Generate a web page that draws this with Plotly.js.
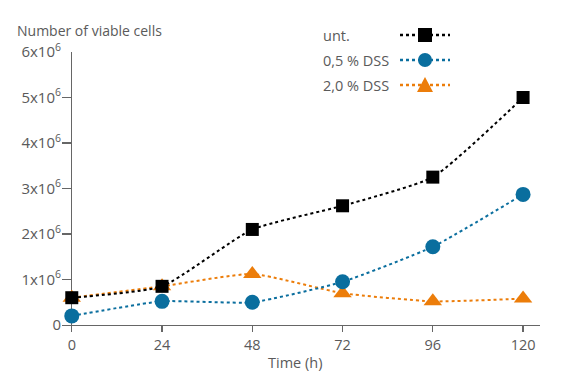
<!DOCTYPE html>
<html><head><meta charset="utf-8">
<script src="https://cdn.plot.ly/plotly-3.0.1.min.js"></script>
<style>html,body{margin:0;padding:0;background:#fff}#chart{width:579px;height:379px}</style>
</head><body><div id="chart"></div>
<script>
const hours = [0, 24, 48, 72, 96, 120];
const untreated = [0.6e6, 0.85e6, 2.1e6, 2.62e6, 3.25e6, 5.0e6];
const dss05 = [0.2e6, 0.52e6, 0.5e6, 0.95e6, 1.72e6, 2.87e6];
const dss20 = [0.6e6, 0.85e6, 1.12e6, 0.7e6, 0.52e6, 0.58e6];
const seriesNames = ['unt.', '0,5 % DSS', '2,0 % DSS'];
const yTickVals = [0, 1e6, 2e6, 3e6, 4e6, 5e6, 6e6];
const yTickText = ['0', '1x10<sup>6</sup>', '2x10<sup>6</sup>', '3x10<sup>6</sup>', '4x10<sup>6</sup>', '5x10<sup>6</sup>', '6x10<sup>6</sup>'];
const xTickVals = [0, 24, 48, 72, 96, 120];

const colors = ['#000000', '#0a6e9e', '#ec7d0a'];
const symbols = ['square', 'circle', 'triangle-up'];
const sizes = [13, 15, 16];
const FONT = '"Open Sans", "Noto Sans", sans-serif';
const GRAY = '#5a5a5a';

const series = [untreated, dss05, dss20];
const traces = series.map((ys, i) => ({
  x: hours, y: ys, name: seriesNames[i], type: 'scatter', mode: 'lines+markers',
  line: {color: colors[i], width: 2, dash: 'dot', shape: 'spline', smoothing: 0.5},
  marker: {color: colors[i], symbol: symbols[i], size: sizes[i]},
  cliponaxis: false, showlegend: false
})).reverse();

// plot area geometry (pixels)
const L = 62, R = 540, T = 52, B = 325;
const px = x => (x - L) / (R - L);
const py = y => (B - y) / (B - T);

const shapes = [];
const annotations = [];
const rows = [35, 60, 85];
rows.forEach((ry, i) => {
  shapes.push({type: 'line', xref: 'paper', yref: 'paper', x0: px(400), x1: px(450), y0: py(ry), y1: py(ry),
    line: {color: colors[i], width: 2.5, dash: 'dot'}});
  if (i === 0) {
    shapes.push({type: 'rect', xref: 'paper', yref: 'paper', x0: px(418), x1: px(432), y0: py(ry + 7), y1: py(ry - 7),
      fillcolor: colors[i], line: {width: 0}});
  } else if (i === 1) {
    shapes.push({type: 'circle', xref: 'paper', yref: 'paper', x0: px(418), x1: px(432), y0: py(ry + 7), y1: py(ry - 7),
      fillcolor: colors[i], line: {width: 0}});
  } else {
    shapes.push({type: 'path', xref: 'paper', yref: 'paper',
      path: `M ${px(417)} ${py(ry + 7)} L ${px(433)} ${py(ry + 7)} L ${px(425)} ${py(ry - 8)} Z`,
      fillcolor: colors[i], line: {width: 0}});
  }
  annotations.push({text: seriesNames[i], xref: 'paper', yref: 'paper', x: px(321), y: py(ry),
    xanchor: 'left', yanchor: 'middle', showarrow: false, font: {family: FONT, size: 14.5, color: GRAY}});
});
annotations.push({text: 'Number of viable cells', xref: 'paper', yref: 'paper', x: px(15), y: py(30),
  xanchor: 'left', yanchor: 'middle', showarrow: false, font: {family: FONT, size: 14, color: GRAY}});
annotations.push({text: 'Time (h)', xref: 'paper', yref: 'paper', x: px(295), y: py(362),
  xanchor: 'center', yanchor: 'middle', showarrow: false, font: {family: FONT, size: 14.5, color: GRAY}});

const layout = {
  width: 579, height: 379,
  margin: {l: L, r: 579 - R, t: T, b: 379 - B, pad: 0},
  paper_bgcolor: '#fff', plot_bgcolor: '#fff',
  showlegend: false,
  font: {family: FONT, color: GRAY, size: 13},
  xaxis: {
    range: [-2.6, 124.5], tickvals: xTickVals, ticks: 'outside', ticklen: 6, tickcolor: '#666', tickwidth: 1.2,
    showline: true, linecolor: '#666', linewidth: 1.2, showgrid: false,
    zeroline: true, zerolinecolor: '#666', zerolinewidth: 1.2,
    tickfont: {family: FONT, size: 14.5, color: GRAY}
  },
  yaxis: {
    range: [0, 6e6], tickvals: yTickVals, ticktext: yTickText, ticks: 'inside', ticklen: 10,
    tickcolor: '#666', tickwidth: 1.2, showline: false, showgrid: false, zeroline: false,
    tickfont: {family: FONT, size: 15, color: GRAY}
  },
  shapes: shapes, annotations: annotations
};
Plotly.newPlot('chart', traces, layout, {displayModeBar: false, staticPlot: true});
</script></body></html>
